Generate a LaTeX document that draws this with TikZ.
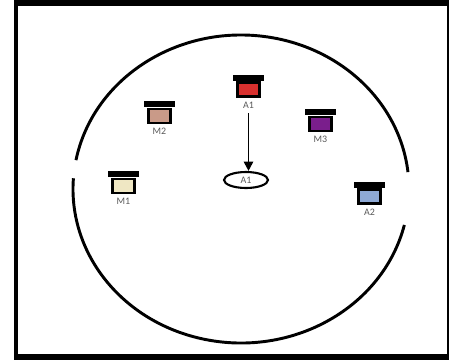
\documentclass[tikz,border=0pt]{standalone}
\usepackage{fontspec}
\newfontfamily\lblfont{Carlito}
\usepackage{tikz}
\usetikzlibrary{shapes.geometric, arrows.meta, positioning, calc}

\definecolor{lampred}{HTML}{D8302E}
\definecolor{lamptan}{HTML}{C99A88}
\definecolor{lampviolet}{HTML}{7A1E8C}
\definecolor{lampcream}{HTML}{EFE7C3}
\definecolor{lampblue}{HTML}{8EA9D5}

\begin{document}
\begin{tikzpicture}[
    x=0.03cm, y=-0.03cm,
    >={Triangle[length=8pt,width=8pt]},
    every node/.style={font=\lblfont\fontsize{8.5}{10}\selectfont, text=black!65},
    lampbody/.style={draw=black, line width=2.5pt, minimum width=0.66cm, minimum height=0.42cm, inner sep=0pt},
    lampcap/.style={fill=black, minimum width=0.93cm, minimum height=0.18cm, inner sep=0pt},
    lbl/.style={inner sep=1pt}
]
\useasboundingbox (0,0) rectangle (450,360);

% Frame
\fill (14,0) rectangle (448,6);
\fill (14,0) rectangle (18,360);
\fill (14,354) rectangle (449,360);
\draw[line width=1pt] (448,0) -- (448,360);

% Room outline (two arcs, open at left and right)
\coordinate (ctr) at (241,189);
\draw[line width=2.5pt] ($(ctr)+(13.5:168 and 154)$) arc[start angle=13.5, end angle=184, x radius=168, y radius=154];
\draw[line width=2.5pt] ($(ctr)+(190.8:168 and 154)$) arc[start angle=190.8, end angle=353.7, x radius=168, y radius=154];

% Lamps
\node[lampbody, fill=lampred] (a1) at (248.5,89.5) {};
\node[lampcap, above=0pt of a1] (a1cap) {};
\node[lbl, below=2pt of a1] (a1lbl) {A1};

\node[lampbody, fill=lamptan] (m2) at (159.5,116) {};
\node[lampcap, above=0pt of m2] (m2cap) {};
\node[lbl, below=2pt of m2] (m2lbl) {M2};

\node[lampbody, fill=lampviolet] (m3) at (320.5,124) {};
\node[lampcap, above=0pt of m3] (m3cap) {};
\node[lbl, below=2pt of m3] (m3lbl) {M3};

\node[lampbody, fill=lampcream] (m1) at (123.5,186) {};
\node[lampcap, above=0pt of m1] (m1cap) {};
\node[lbl, below=2pt of m1] (m1lbl) {M1};

\node[lampbody, fill=lampblue] (a2) at (369.5,196.5) {};
\node[lampcap, above=0pt of a2] (a2cap) {};
\node[lbl, below=2pt of a2] (a2lbl) {A2};

% Target
\node[ellipse, draw=black, line width=1.8pt, minimum width=1.32cm, minimum height=0.48cm, inner sep=0pt] (a1ring) at (246,180) {A1};
\draw[->, line width=1.6pt, shorten <=3pt] (a1lbl.south) -- (a1lbl.south |- a1ring.north);

\end{tikzpicture}
\end{document}
